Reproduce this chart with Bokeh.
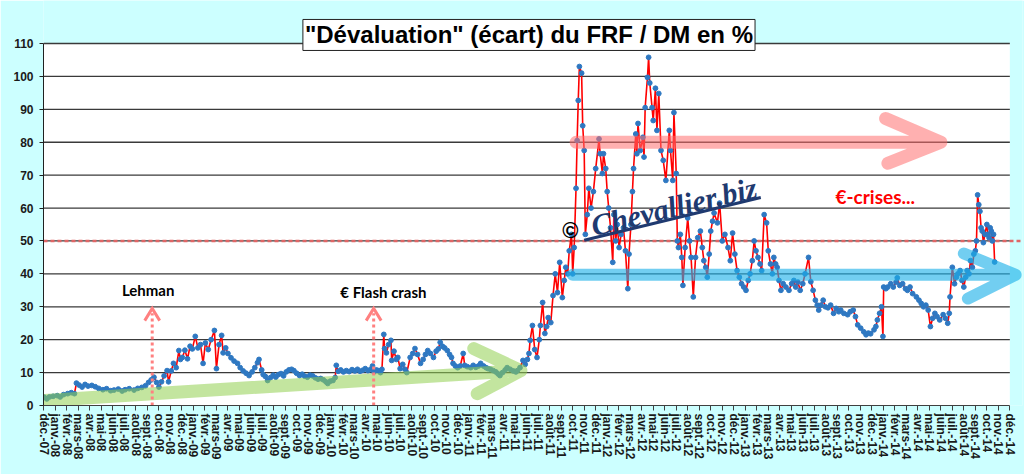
import calendar
from bokeh.plotting import figure
from bokeh.models import Range1d, FixedTicker, Label
from bokeh.embed import file_html
from bokeh.resources import INLINE

# ---------------- data ----------------
month_abbr = ["janv.", "févr.", "mars", "avr.", "mai", "juin", "juil.", "août", "sept.", "oct.", "nov.", "déc."]
tick_labels = ["déc.-07"] + [f"{m}-{y % 100:02d}" for y in range(2008, 2015) for m in month_abbr]
y_ticks = [0, 10, 20, 30, 40, 50, 60, 70, 80, 90, 100, 110]
ref_level = 50

dates_2008 = ["2007-12-03", "2007-12-10", "2007-12-17", "2007-12-27", "2008-01-07", "2008-01-15", "2008-01-24",
              "2008-02-04", "2008-02-13", "2008-02-21", "2008-02-26", "2008-03-04", "2008-03-12", "2008-03-20",
              "2008-03-28", "2008-04-07", "2008-04-16", "2008-04-25", "2008-05-06", "2008-05-16", "2008-05-27",
              "2008-06-05", "2008-06-16", "2008-06-26", "2008-07-04", "2008-07-15", "2008-07-28", "2008-08-07",
              "2008-08-18", "2008-08-28", "2008-09-05", "2008-09-12", "2008-09-19", "2008-09-26", "2008-10-02",
              "2008-10-09", "2008-10-16", "2008-10-24", "2008-10-28", "2008-11-04", "2008-11-10", "2008-11-17",
              "2008-11-24", "2008-11-28", "2008-12-03", "2008-12-10", "2008-12-17", "2008-12-24", "2008-12-30"]
vals_2008 = [2.5, 2.0, 2.6, 2.8, 3.0, 2.6, 3.3,
             3.6, 3.9, 3.6, 6.8, 6.2, 5.6, 6.4,
             5.9, 6.1, 5.7, 5.2, 4.8, 5.1, 4.5,
             4.7, 5.0, 4.4, 4.8, 5.1, 4.7, 5.2,
             5.5, 6.0, 7.0, 7.8, 8.6, 7.0, 5.6,
             7.2, 9.0, 10.6, 7.2, 10.5, 12.8, 11.5,
             16.7, 14.0, 14.6, 16.8, 14.2, 18.0, 17.2]

dates_2009 = ["2009-01-07", "2009-01-14", "2009-01-21", "2009-01-28", "2009-02-03", "2009-02-10", "2009-02-17",
              "2009-02-25", "2009-03-02", "2009-03-09", "2009-03-16", "2009-03-20", "2009-03-27", "2009-04-02",
              "2009-04-10", "2009-04-18", "2009-04-27", "2009-05-04", "2009-05-12", "2009-05-20", "2009-05-28",
              "2009-06-05", "2009-06-12", "2009-06-19", "2009-06-23", "2009-06-30", "2009-07-04", "2009-07-10",
              "2009-07-16", "2009-07-24", "2009-07-31", "2009-08-07", "2009-08-14", "2009-08-21", "2009-08-28",
              "2009-09-04", "2009-09-11", "2009-09-18", "2009-09-24", "2009-10-01", "2009-10-09", "2009-10-16",
              "2009-10-23", "2009-10-30", "2009-11-06", "2009-11-13", "2009-11-20", "2009-11-27", "2009-12-04",
              "2009-12-11", "2009-12-18", "2009-12-23", "2009-12-30"]
vals_2009 = [21.0, 17.5, 18.5, 12.8, 19.0, 17.0, 20.0,
             22.8, 11.2, 18.5, 21.3, 16.0, 17.5, 15.8,
             14.5, 13.5, 12.8, 11.5, 10.5, 9.8, 9.1,
             10.2, 11.5, 13.0, 14.0, 10.8, 9.4, 8.8,
             7.6, 8.5, 9.2, 8.6, 9.4, 9.7, 9.0,
             10.2, 10.8, 11.0, 10.6, 9.8, 9.1, 9.5,
             8.9, 8.6, 9.2, 9.0, 8.4, 8.0, 8.2,
             7.8, 7.2, 6.7, 7.4]

dates_2010 = ["2010-01-06", "2010-01-12", "2010-01-15", "2010-01-20", "2010-01-27", "2010-02-03", "2010-02-10",
              "2010-02-17", "2010-02-24", "2010-03-03", "2010-03-10", "2010-03-17", "2010-03-24", "2010-03-31",
              "2010-04-07", "2010-04-14", "2010-04-19", "2010-04-23", "2010-04-29", "2010-05-04", "2010-05-10",
              "2010-05-14", "2010-05-19", "2010-05-21", "2010-05-26", "2010-06-01", "2010-06-07", "2010-06-09",
              "2010-06-15", "2010-06-21", "2010-06-25", "2010-07-01", "2010-07-08", "2010-07-14", "2010-07-19",
              "2010-07-28", "2010-08-04", "2010-08-10", "2010-08-17", "2010-08-25", "2010-09-01", "2010-09-07",
              "2010-09-13", "2010-09-20", "2010-09-28", "2010-10-05", "2010-10-11", "2010-10-16", "2010-10-22",
              "2010-10-28", "2010-11-04", "2010-11-10", "2010-11-15", "2010-11-19", "2010-11-25", "2010-12-01",
              "2010-12-08", "2010-12-16", "2010-12-20", "2010-12-27"]
vals_2010 = [7.6, 8.5, 12.2, 10.4, 10.8, 10.2, 10.6,
             10.3, 10.9, 10.5, 11.0, 10.4, 10.7, 11.2,
             10.6, 11.0, 12.0, 10.2, 10.8, 10.6, 10.0,
             11.0, 21.6, 17.3, 16.0, 18.5, 19.8, 13.7,
             16.5, 14.0, 14.6, 11.2, 12.5, 11.0, 10.0,
             14.6, 15.8, 17.3, 15.5, 12.8, 14.0, 15.5,
             16.7, 15.8, 14.6, 16.5, 17.2, 19.2, 18.0,
             17.5, 16.7, 15.5, 14.6, 12.8, 12.0, 11.5,
             12.0, 15.8, 12.2, 11.8]

dates_2011 = ["2011-01-05", "2011-01-12", "2011-01-19", "2011-01-26", "2011-02-01", "2011-02-08", "2011-02-14",
              "2011-02-19", "2011-02-25", "2011-03-04", "2011-03-11", "2011-03-17", "2011-03-22", "2011-03-29",
              "2011-04-05", "2011-04-10", "2011-04-18", "2011-04-26", "2011-05-03", "2011-05-07", "2011-05-14",
              "2011-05-22", "2011-05-28", "2011-06-03", "2011-06-07", "2011-06-10", "2011-06-16", "2011-06-22",
              "2011-06-28", "2011-07-04", "2011-07-07", "2011-07-13", "2011-07-19", "2011-07-24", "2011-07-28",
              "2011-08-04", "2011-08-10", "2011-08-16", "2011-08-22", "2011-08-28", "2011-09-04", "2011-09-09",
              "2011-09-13", "2011-09-18", "2011-09-22", "2011-09-28", "2011-10-01", "2011-10-05", "2011-10-10",
              "2011-10-13", "2011-10-16", "2011-10-19", "2011-10-25", "2011-10-28", "2011-11-01", "2011-11-04",
              "2011-11-09", "2011-11-13", "2011-11-19", "2011-11-25", "2011-12-01", "2011-12-10", "2011-12-13",
              "2011-12-19", "2011-12-22", "2011-12-28"]
vals_2011 = [11.5, 12.2, 11.6, 12.0, 12.8, 12.0, 11.5,
             11.2, 11.0, 10.6, 10.2, 9.6, 9.1, 10.0,
             10.8, 11.5, 11.0, 10.5, 10.2, 10.6, 11.5,
             13.7, 12.5, 14.0, 15.8, 19.8, 24.3, 17.0,
             14.6, 20.0, 24.3, 31.3, 21.9, 24.0, 26.7,
             25.2, 33.4, 40.0, 34.3, 43.5, 32.8, 38.0,
             42.0, 40.0, 47.0, 52.0, 40.0, 48.0, 66.0,
             80.5, 92.7, 103.0, 101.0, 85.0, 77.5, 52.0,
             58.0, 66.0, 60.0, 65.0, 72.0, 81.0, 76.5,
             70.5, 76.5, 72.0]

dates_2012 = ["2012-01-01", "2012-01-05", "2012-01-10", "2012-01-16", "2012-01-19", "2012-01-24", "2012-01-28",
              "2012-02-02", "2012-02-07", "2012-02-13", "2012-02-18", "2012-02-24", "2012-02-27", "2012-03-03",
              "2012-03-07", "2012-03-10", "2012-03-16", "2012-03-19", "2012-03-22", "2012-03-28", "2012-04-04",
              "2012-04-07", "2012-04-10", "2012-04-16", "2012-04-19", "2012-04-22", "2012-04-28", "2012-05-01",
              "2012-05-07", "2012-05-11", "2012-05-16", "2012-05-22", "2012-05-28", "2012-06-04", "2012-06-13",
              "2012-06-16", "2012-06-22", "2012-06-25", "2012-07-01", "2012-07-04", "2012-07-07", "2012-07-12",
              "2012-07-16", "2012-07-19", "2012-07-25", "2012-08-01", "2012-08-06", "2012-08-10", "2012-08-16",
              "2012-08-22", "2012-08-28", "2012-09-04", "2012-09-09", "2012-09-13", "2012-09-18", "2012-09-22",
              "2012-09-27", "2012-10-01", "2012-10-06", "2012-10-10", "2012-10-19", "2012-10-25", "2012-11-01",
              "2012-11-08", "2012-11-16", "2012-11-22", "2012-11-28", "2012-12-04", "2012-12-10", "2012-12-16",
              "2012-12-22", "2012-12-28"]
vals_2012 = [65.0, 60.0, 54.0, 43.5, 58.0, 50.0, 55.0,
             48.0, 52.0, 54.0, 47.0, 35.5, 46.0, 55.0,
             65.0, 72.0, 82.5, 76.5, 85.7, 77.5, 81.5,
             75.5, 90.5, 99.7, 105.8, 98.0, 90.5, 86.6,
             96.4, 83.6, 94.8, 77.5, 74.5, 68.4, 83.6,
             77.5, 68.4, 89.0, 70.5, 50.0, 48.0, 52.0,
             45.0, 36.5, 48.0, 57.0, 50.0, 45.0, 33.0,
             45.0, 51.0, 53.0, 48.0, 44.0, 42.0, 39.0,
             46.0, 53.0, 56.0, 58.5, 55.5, 61.5, 50.0,
             52.0, 48.0, 44.0, 52.4, 46.0, 41.0, 39.0,
             37.0, 36.0]

dates_2013 = ["2013-01-03", "2013-01-09", "2013-01-14", "2013-01-20", "2013-01-25", "2013-01-30", "2013-02-04",
              "2013-02-09", "2013-02-13", "2013-02-19", "2013-02-25", "2013-03-01", "2013-03-07", "2013-03-12",
              "2013-03-16", "2013-03-21", "2013-03-25", "2013-03-30", "2013-04-04", "2013-04-10", "2013-04-17",
              "2013-04-25", "2013-05-02", "2013-05-08", "2013-05-13", "2013-05-19", "2013-05-25", "2013-06-01",
              "2013-06-07", "2013-06-16", "2013-06-22", "2013-06-28", "2013-07-04", "2013-07-09", "2013-07-13",
              "2013-07-19", "2013-07-25", "2013-07-31", "2013-08-07", "2013-08-14", "2013-08-22", "2013-08-29",
              "2013-09-05", "2013-09-10", "2013-09-18", "2013-09-28", "2013-10-05", "2013-10-13", "2013-10-19",
              "2013-10-25", "2013-11-02", "2013-11-10", "2013-11-16", "2013-11-22", "2013-11-28", "2013-12-07",
              "2013-12-12", "2013-12-16", "2013-12-22", "2013-12-27", "2013-12-31"]
vals_2013 = [35.0, 38.0, 40.0, 44.0, 50.0, 47.0, 45.0,
             43.0, 41.0, 58.0, 55.5, 47.0, 43.0, 40.0,
             45.0, 43.0, 42.0, 38.0, 35.0, 37.0, 36.0,
             35.0, 37.0, 38.0, 36.0, 37.5, 35.0, 37.0,
             40.0, 45.0, 37.6, 35.0, 32.0, 30.5, 29.0,
             30.5, 32.0, 30.0, 29.7, 30.5, 28.0, 29.5,
             28.5, 29.0, 28.0, 27.6, 28.5, 29.0, 27.0,
             24.5, 23.5, 22.4, 21.5, 22.0, 21.8, 23.0,
             24.0, 26.0, 28.0, 30.0, 21.0]

dates_2014 = ["2014-01-02", "2014-01-08", "2014-01-13", "2014-01-21", "2014-01-28", "2014-02-04", "2014-02-07",
              "2014-02-13", "2014-02-20", "2014-02-27", "2014-03-04", "2014-03-11", "2014-03-18", "2014-03-28",
              "2014-04-04", "2014-04-10", "2014-04-16", "2014-04-22", "2014-04-28", "2014-05-04", "2014-05-10",
              "2014-05-16", "2014-05-22", "2014-05-29", "2014-06-07", "2014-06-13", "2014-06-19", "2014-06-23",
              "2014-06-25", "2014-07-01", "2014-07-07", "2014-07-12", "2014-07-16", "2014-07-22", "2014-07-27",
              "2014-08-01", "2014-08-06", "2014-08-10", "2014-08-15", "2014-08-19", "2014-08-24", "2014-08-28",
              "2014-09-01", "2014-09-04", "2014-09-07", "2014-09-10", "2014-09-13", "2014-09-16", "2014-09-19",
              "2014-09-22", "2014-09-26", "2014-10-01", "2014-10-04", "2014-10-07", "2014-10-10", "2014-10-13",
              "2014-10-16", "2014-10-19", "2014-10-22"]
vals_2014 = [36.0, 35.5, 36.0, 37.0, 36.0, 37.5, 38.8,
             36.5, 37.0, 35.5, 35.0, 36.0, 34.0, 33.0,
             32.0, 31.0, 30.0, 30.5, 29.0, 24.0, 26.5,
             28.0, 27.0, 26.0, 27.6, 26.5, 25.0, 28.0,
             33.0, 42.0, 37.0, 39.0, 40.0, 41.0, 38.0,
             36.0, 39.0, 41.0, 40.0, 44.0, 42.0, 46.0,
             47.0, 50.0, 64.0, 61.0, 59.0, 54.0, 53.0,
             49.5, 52.0, 55.0, 52.0, 51.0, 54.0, 53.0,
             50.0, 52.0, 43.6]

# annotation texts
title_text = '"Dévaluation" (écart) du FRF / DM en %'
note_lehman = "Lehman"
note_flash = "€ Flash crash"
note_crises = "€-crises..."
watermark = "Chevallier.biz"

# ---------------- helpers ----------------
def month_pos(s):
    y, mo, d = (int(t) for t in s.split("-"))
    return (y - 2007) * 12 + (mo - 12) + (d - 1) / calendar.monthrange(y, mo)[1]

all_dates = dates_2008 + dates_2009 + dates_2010 + dates_2011 + dates_2012 + dates_2013 + dates_2014
all_vals = vals_2008 + vals_2009 + vals_2010 + vals_2011 + vals_2012 + vals_2013 + vals_2014
xs = [month_pos(d) for d in all_dates]

x_ticks = list(range(len(tick_labels)))
x_last = x_ticks[-1]
x_end = 85.1
y_end = 123.07   # headroom above the 110 line for the title box

CYAN = "#CCFFFF"

p = figure(width=1024, height=474, x_range=Range1d(0, x_end), y_range=Range1d(0, y_end),
           output_backend="svg", toolbar_location=None,
           min_border_left=43, min_border_right=2, min_border_top=0, min_border_bottom=69)
p.background_fill_color = CYAN
p.border_fill_color = CYAN
p.outline_line_color = None
p.xgrid.visible = False
p.ygrid.visible = False

# white plot area and gridlines
p.quad(left=x_ticks[0], right=x_last, bottom=y_ticks[0], top=y_ticks[-1], fill_color="white", line_color=None)
p.segment(x0=[x_ticks[0]] * (len(y_ticks) - 1), x1=[x_last] * (len(y_ticks) - 1),
          y0=y_ticks[1:], y1=y_ticks[1:], line_color="#3a3a3a", line_width=1.3)

# reference dotted line at 50
p.line([x_ticks[0], x_end], [ref_level, ref_level], line_color="#E06666", line_width=2.6, line_dash="4 3")

# series
p.line(xs, all_vals, line_color="#FF0000", line_width=1.6)
p.scatter(xs, all_vals, size=4.8, fill_color="#2E78C2", line_color="#2E78C2")

# arrows (annotations)
green_x = [0.1, 41.5, 37.4, 41.5, 37.7]
green_y = [1.5, 10.6, 17.3, 10.6, 3.6]
p.line(green_x, green_y, line_color="#92D050", line_alpha=0.55, line_width=13, line_cap="round", line_join="round")
blue_x = [46.0, 84.5, 80.0, 84.5, 80.35]
blue_y = [39.7, 39.7, 46.2, 39.7, 32.5]
p.line(blue_x, blue_y, line_color="#1CB0E8", line_alpha=0.62, line_width=12, line_cap="round", line_join="round")
pink_x = [46.3, 78.0, 73.2, 78.0, 73.4]
pink_y = [80.0, 80.0, 87.2, 80.0, 73.6]
p.line(pink_x, pink_y, line_color="#FF7070", line_alpha=0.55, line_width=13, line_cap="round", line_join="round")

for ax in (9.45, 28.7):
    p.line([ax, ax], [0, 28.0], line_color="#FF8080", line_width=3, line_dash="3 3")
    p.line([ax - 0.65, ax, ax + 0.65], [25.8, 29.5, 25.8], line_color="#FF8080", line_width=3,
           line_join="miter")

# watermark underline
p.line([47.0, 62.35], [50.2, 63.2], line_color="#1F3A70", line_width=3)

# axes
p.xaxis.ticker = FixedTicker(ticks=x_ticks)
p.xaxis.major_label_overrides = {i: lab for i, lab in enumerate(tick_labels)}
p.xaxis.major_label_orientation = "vertical"
p.xaxis.bounds = (x_ticks[0], x_last)
p.xaxis.minor_tick_line_color = None
p.xaxis.major_tick_in = 0
p.xaxis.major_tick_out = 5
p.xaxis.major_label_standoff = 3
p.xaxis.major_label_text_font = "Liberation Sans"
p.xaxis.major_label_text_font_style = "bold"
p.xaxis.major_label_text_font_size = "12px"
p.xaxis.major_label_text_color = "#1a1a1a"
p.xaxis.axis_line_color = "#404040"
p.xaxis.major_tick_line_color = "#404040"

p.yaxis.ticker = FixedTicker(ticks=y_ticks)
p.yaxis.bounds = (y_ticks[0], y_ticks[-1])
p.yaxis.minor_tick_line_color = None
p.yaxis.major_tick_in = 0
p.yaxis.major_tick_out = 4
p.yaxis.major_label_standoff = 6
p.yaxis.major_label_text_font = "Liberation Sans"
p.yaxis.major_label_text_font_style = "bold"
p.yaxis.major_label_text_font_size = "12px"
p.yaxis.major_label_text_color = "#1a1a1a"
p.yaxis.axis_line_color = "#202020"
p.yaxis.major_tick_line_color = "#202020"

# text annotations
def add_label(x, y, text, size, color="black", font="Lato", style="bold", angle=0.0):
    p.add_layout(Label(x=x, y=y, text=text, text_font=font, text_font_style=style,
                       text_font_size=size, text_color=color, text_align="center",
                       text_baseline="middle", angle=angle))

add_label(9.1, 35.0, note_lehman, "15px")
add_label(29.55, 34.6, note_flash, "15px")
add_label(72.3, 63.5, note_crises, "19px", color="#FF0000")
add_label(54.8, 60.5, watermark, "30px", color="#1F3A70", font="Liberation Serif", style="bold italic", angle=0.235)
add_label(45.8, 53.2, "©", "22px", font="Liberation Sans", style="bold")

# title with shadow
p.add_layout(Label(x=42.2, y=112.6, text=title_text, text_font="Liberation Sans", text_font_style="bold",
                   text_font_size="24px", text_alpha=0.0, text_align="center", text_baseline="middle",
                   background_fill_color="#8a8a8a", background_fill_alpha=0.8, x_offset=3, y_offset=-3,
                   padding=2))
p.add_layout(Label(x=42.2, y=112.6, text=title_text, text_font="Liberation Sans", text_font_style="bold",
                   text_font_size="24px", text_color="black", text_align="center", text_baseline="middle",
                   background_fill_color="white", border_line_color="#222222", border_line_width=1,
                   padding=2))

open("out.html", "w").write(file_html(p, INLINE))
